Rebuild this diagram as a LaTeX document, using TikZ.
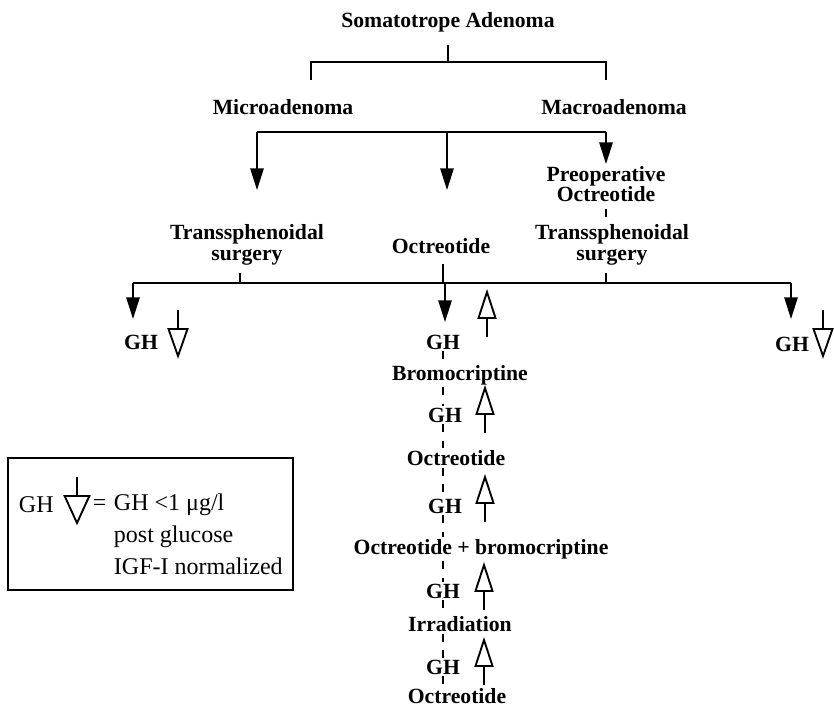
\documentclass[tikz,border=0pt]{standalone}
\usepackage{fontspec}
\setmainfont{Liberation Serif}
\usetikzlibrary{arrows.meta,calc,positioning}

\tikzset{
  hollowup/.pic={
    \draw[line join=miter] (0,0) -- (-8.5,26) -- (8.5,26) -- cycle;
    \draw (0,26) -- (0,45);
  },
  hollowdown/.pic={
    \draw (0,0) -- (0,19);
    \draw[line join=miter] (-9.5,19) -- (9.5,19) -- (0,46) -- cycle;
  }
}

\begin{document}
\begin{tikzpicture}[x=0.3mm, y=-0.3mm, line width=1.6pt,
  every node/.style={font=\fontsize{18.5}{17.5}\selectfont\bfseries, inner sep=1pt, align=center},
  legtext/.style={font=\fontsize{20.5}{24}\selectfont, anchor=west, inner sep=0pt},
  solidarrow/.style={-{Triangle[length=6.5mm, width=4mm]}},
  chain/.style={dash pattern=on 2.4mm off 2.6mm, line width=1.3pt}]
  \useasboundingbox (0,0) rectangle (834,710);

  % top of the tree
  \node (som) at (448,22) {Somatotrope Adenoma};
  \node (micro) at (283,107) {Microadenoma};
  \node (macro) at (614,107) {Macroadenoma};
  \draw (448,45) -- (448,62);
  \draw (311,80) -- (311,62) -- (606,62) -- (606,80);

  % treatment choices
  \node (tsl) at (247,245) {Transsphenoidal\\surgery};
  \node (octm) at (441,246) {Octreotide};
  \node (preop) at (606,184) {Preoperative\\Octreotide};
  \node (tsr) at (612,245) {Transsphenoidal\\surgery};
  \coordinate (al) at (257,190);
  \coordinate (am) at (447,190);
  \draw (257,132) -- (606,132);
  \draw[solidarrow] (257,132) -- (al);
  \draw[solidarrow] (447,132) -- (am);
  \draw[solidarrow] (606,132) -- (preop.north);
  \draw (606,209) -- (606,217);

  % outcome line
  \draw (240,273) -- (240,283);
  \draw (443,264) -- (443,283);
  \draw (606,273) -- (606,283);
  \draw (133,283) -- (791,283);
  \coordinate (ol) at (133,319);
  \coordinate (om) at (445,322);
  \coordinate (or) at (791,319);
  \draw[solidarrow] (133,283) -- (ol);
  \draw[solidarrow] (445,283) -- (om);
  \draw[solidarrow] (791,283) -- (or);

  \node (ghl) at (141,342) {GH};
  \node (ghr) at (792,344) {GH};
  \pic at (178,310) {hollowdown};
  \pic at (823,310) {hollowdown};

  % sequence after octreotide
  \node (ghm) at (443,342) {GH};
  \node (brom) at (460,375) {Bromocriptine};
  \node (gh2) at (445,415) {GH};
  \node (oct2) at (456,458) {Octreotide};
  \node (gh3) at (445,506) {GH};
  \node (octbrom) at (481,549) {Octreotide + bromocriptine};
  \node (gh4) at (443,591) {GH};
  \node (irr) at (460,624) {Irradiation};
  \node (gh5) at (443,667) {GH};
  \node[inner sep=0pt] (oct3) at (457,696) {Octreotide};

  \draw[chain] (ghm.south -| 443,0) -- (brom.north -| 443,0);
  \draw[chain] (brom.south -| 443,0) -- (gh2.north -| 443,0);
  \draw[chain] (gh2.south -| 443,0) -- (oct2.north -| 443,0);
  \draw[chain] (oct2.south -| 443,0) -- (gh3.north -| 443,0);
  \draw[chain] (gh3.south -| 443,0) -- (octbrom.north -| 443,0);
  \draw[chain] (octbrom.south -| 443,0) -- (gh4.north -| 443,0);
  \draw[chain] (gh4.south -| 443,0) -- (irr.north -| 443,0);
  \draw[chain] (irr.south -| 443,0) -- (gh5.north -| 443,0);
  \draw[chain] (gh5.south -| 443,0) -- (oct3.north -| 443,0);

  \pic at (487,292) {hollowup};
  \pic at (485,388) {hollowup};
  \pic at (485,477) {hollowup};
  \pic at (484,565) {hollowup};
  \pic at (484,640) {hollowup};

  % legend
  \draw[line width=2.2pt] (8,458) rectangle (293,590);
  \node[legtext] (leggh) at (18,505) {GH};
  \pic[xscale=1.3] at (77,477) {hollowdown};
  \node[legtext] (legeq) at (92,505) {=};
  \node[legtext] (legone) at (113,505) {GH <1 μg/l};
  \node[legtext] (legtwo) at (113,537) {post glucose};
  \node[legtext] (legthree) at (113,566) {IGF-I normalized};
\end{tikzpicture}
\end{document}
